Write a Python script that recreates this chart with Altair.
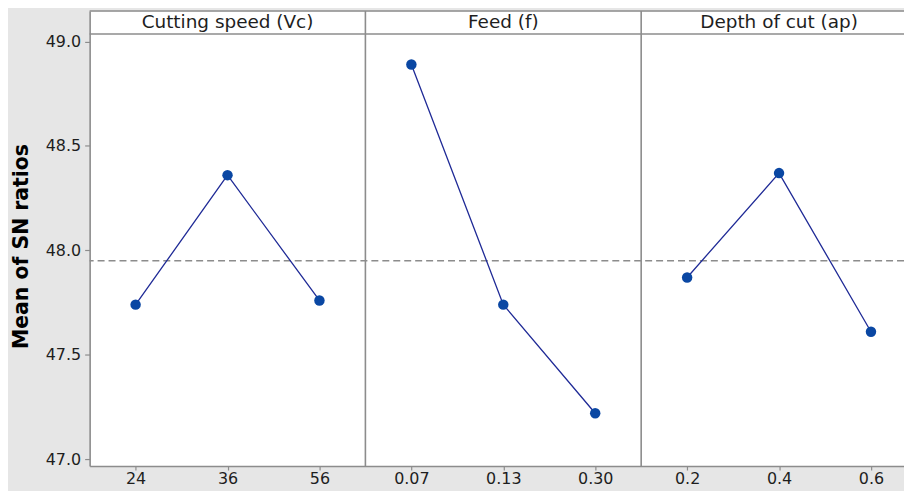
import altair as alt
import pandas as pd

# ---- data ----
factors = ["Cutting speed (Vc)", "Feed (f)", "Depth of cut (ap)"]
levels_vc = ["24", "36", "56"]
levels_f = ["0.07", "0.13", "0.30"]
levels_ap = ["0.2", "0.4", "0.6"]
sn_vc = [47.74, 48.36, 47.76]
sn_f = [48.89, 47.74, 47.22]
sn_ap = [47.87, 48.37, 47.61]
overall_mean = 47.95
y_ticks = [47.0, 47.5, 48.0, 48.5, 49.0]

levels_all = [levels_vc, levels_f, levels_ap]
sn_all = [sn_vc, sn_f, sn_ap]
all_levels = levels_vc + levels_f + levels_ap

# ---- layout / style ----
W = 818            # visible plot width (third panel runs past the edge, as in the reference)
X_RANGE = 831      # three panels of 277 px
H = 457            # header strip + plot
PAD = {"left": 82, "top": 2, "right": 0, "bottom": 24}
Y_BOTTOM = 46.967
HEAD_LINE = 49.036
Y_TOP = 49.146
HEAD_TEXT_Y = 49.093
STEP = X_RANGE / 9

FRAME = "#8c8c8c"
LINE_C = "#1f2a96"
PT_C = "#0a47a3"
TXT = "#1e1e1e"
FONT = "DejaVu Sans"

rows = []
for fac, lev, sn in zip(factors, levels_all, sn_all):
    for j, (l, v) in enumerate(zip(lev, sn)):
        rows.append({"factor": fac, "level": l, "sn": v, "idx": j})
df = pd.DataFrame(rows)

mean_df = pd.DataFrame({"sn": [overall_mean]})
sep_df = pd.DataFrame({"level": [levels_vc[-1], levels_f[-1]]})
hline_df = pd.DataFrame({"sn": [Y_TOP, HEAD_LINE]})
head_df = pd.DataFrame({
    "level": [levels_vc[1], levels_f[1], levels_ap[1]],
    "label": factors,
    "sn": [HEAD_TEXT_Y] * 3,
})

xscale = alt.Scale(type="point", domain=all_levels, range=[0, X_RANGE], padding=0.5)
yscale = alt.Scale(domain=[Y_BOTTOM, Y_TOP], nice=False, zero=False)

x_axis = alt.Axis(
    title=None, grid=False, labelAngle=0,
    domain=True, domainColor=FRAME, domainWidth=1.6,
    tickSize=4, tickColor=FRAME, tickWidth=1.2,
    labelPadding=1, labelFontSize=16, labelColor=TXT, labelFont=FONT,
)
y_axis = alt.Axis(
    title="Mean of SN ratios", values=y_ticks, format=".1f", grid=False,
    domain=True, domainColor=FRAME, domainWidth=1.6,
    tickSize=5, tickColor=FRAME, tickWidth=1.2,
    labelPadding=4, labelFontSize=16, labelColor=TXT, labelFont=FONT,
    titleFont=FONT, titleFontSize=20.5, titleFontWeight="bold", titleColor="#000000",
    titleX=-68, titleY=236, titleBaseline="middle", titleAngle=270,
)

X = alt.X("level:N", scale=xscale, axis=x_axis, sort=all_levels)
Y = alt.Y("sn:Q", scale=yscale, axis=y_axis)

seps = alt.Chart(sep_df).mark_rule(color=FRAME, strokeWidth=1.6, xOffset=STEP / 2).encode(x=X)
hlines = alt.Chart(hline_df).mark_rule(color=FRAME, strokeWidth=1.6).encode(y=Y)
mean_rule = alt.Chart(mean_df).mark_rule(color=FRAME, strokeDash=[7, 4], strokeWidth=1.5).encode(y=Y)
lines = alt.Chart(df).mark_line(color=LINE_C, strokeWidth=1.3).encode(
    x=X, y=Y, detail="factor:N", order="idx:Q"
)
pts = alt.Chart(df).mark_circle(color=PT_C, size=110, opacity=1).encode(x=X, y=Y)
heads = alt.Chart(head_df).mark_text(
    fontSize=18.5, font=FONT, color=TXT, baseline="middle", align="center"
).encode(x=X, y=Y, text="label:N")

chart = alt.layer(seps, hlines, mean_rule, lines, pts, heads).properties(
    width=W,
    height=H,
    background="#e6e6e6",
    padding=PAD,
    autosize=alt.AutoSizeParams(type="none"),
).configure_view(
    stroke="transparent", fill="white"
)

chart.save("out.html", embed_options={"renderer": "svg", "actions": False})
